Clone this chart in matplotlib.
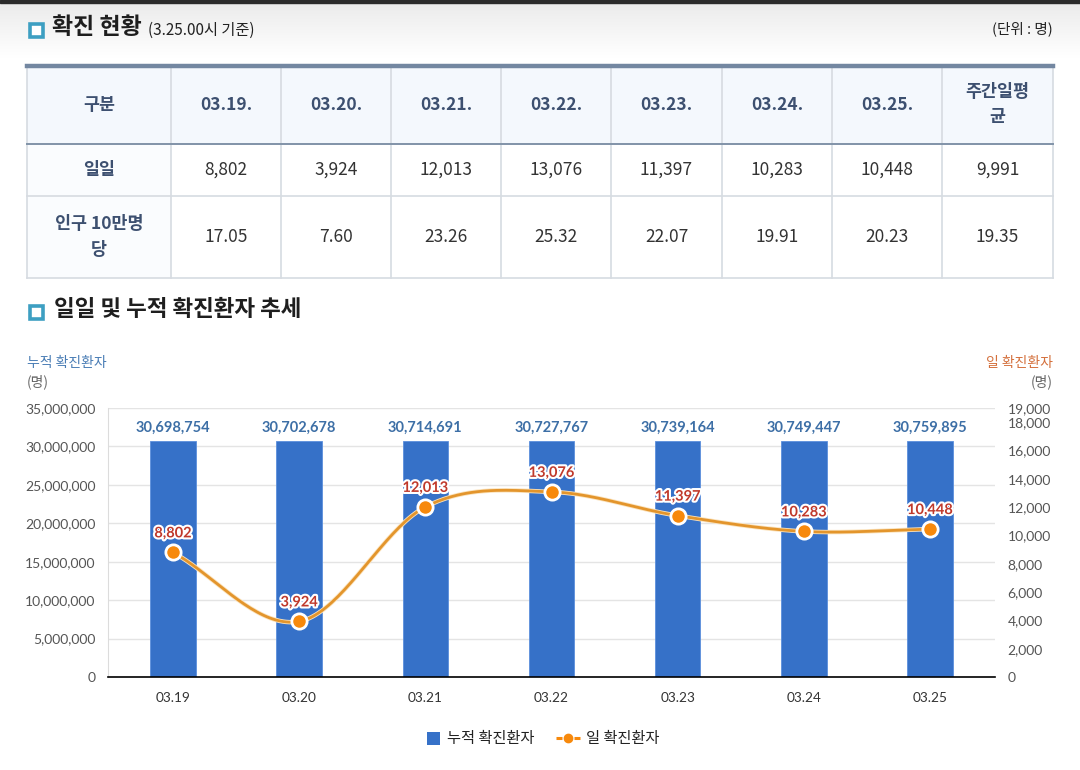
import matplotlib
matplotlib.use("Agg")
import matplotlib.pyplot as plt
import numpy as np
from matplotlib.patches import Rectangle
from matplotlib.ticker import FuncFormatter, FixedLocator
import matplotlib.patheffects as pe

plt.rcParams['font.family'] = ['Noto Sans CJK KR', 'DejaVu Sans']

# ---------------- data ----------------
table_dates = ['03.19.', '03.20.', '03.21.', '03.22.', '03.23.', '03.24.', '03.25.']
daily_cases = [8802, 3924, 12013, 13076, 11397, 10283, 10448]
daily_avg = 9991
per_100k = [17.05, 7.60, 23.26, 25.32, 22.07, 19.91, 20.23]
per_100k_avg = 19.35
chart_dates = ['03.19', '03.20', '03.21', '03.22', '03.23', '03.24', '03.25']
cumulative = [30698754, 30702678, 30714691, 30727767, 30739164, 30749447, 30759895]
left_ticks = [0, 5000000, 10000000, 15000000, 20000000, 25000000, 30000000, 35000000]
right_ticks = [0, 2000, 4000, 6000, 8000, 10000, 12000, 14000, 16000, 18000, 19000]
legend_labels = ['누적 확진환자', '일 확진환자']

# ---------------- colours ----------------
BAR = '#3671c8'
BAR_LBL = '#3d6fa6'
LINE = '#e3952c'
MARK = '#f7890c'
LINE_LBL = '#c0392b'
HEAD_TXT = '#3d5070'
BODY_TXT = '#333333'
TEAL = '#3d9fc2'

fig = plt.figure(figsize=(10.8, 7.7), dpi=100)
fig.patch.set_facecolor('white')

# background "page" axes in pixel coordinates
bg = fig.add_axes([0, 0, 1, 1], zorder=0)
bg.set_xlim(0, 1080)
bg.set_ylim(770, 0)
bg.axis('off')

# top gradient band
grad = np.linspace(0, 1, 64).reshape(-1, 1)
bg.imshow(grad, cmap=matplotlib.colors.LinearSegmentedColormap.from_list('g', ['#ebebeb', '#ffffff']),
          extent=(0, 1080, 58, 2), aspect='auto', zorder=0)
bg.add_patch(Rectangle((0, 0), 1080, 2.5, color='#2b2b2b', zorder=1))


def icon(cx, cy):
    bg.add_patch(Rectangle((cx - 6.5, cy - 6.5), 13, 13, facecolor='white',
                           edgecolor=TEAL, linewidth=2.6, zorder=3))


# titles
icon(36.5, 30)
bg.text(52, 28, '확진 현황', fontsize=16.5, fontweight='bold', color='#1e1e1e', va='center', ha='left')
bg.text(148, 30, '(3.25.00시 기준)', fontsize=11, color='#222222', va='center', ha='left')
bg.text(1053, 29, '(단위 : 명)', fontsize=10.5, color='#222222', va='center', ha='right')

# ---------------- table ----------------
col_edges = [27, 171, 281, 391, 501, 611, 722, 832, 942, 1053]
row_edges = [65, 144, 196, 278]

bg.add_patch(Rectangle((col_edges[0], row_edges[0]), col_edges[-1] - col_edges[0],
                       row_edges[1] - row_edges[0], facecolor='#f4f8fd', edgecolor='none', zorder=1))
bg.add_patch(Rectangle((col_edges[0], row_edges[1]), col_edges[1] - col_edges[0],
                       row_edges[-1] - row_edges[1], facecolor='#fafcfe', edgecolor='none', zorder=1))
for xe in col_edges:
    bg.plot([xe, xe], [row_edges[0], row_edges[-1]], color='#d6dbe1', lw=1.2, zorder=2)
bg.plot([col_edges[0], col_edges[-1]], [row_edges[2], row_edges[2]], color='#d6dbe1', lw=1.2, zorder=2)
bg.plot([col_edges[0], col_edges[-1]], [row_edges[3], row_edges[3]], color='#d6dbe1', lw=1.2, zorder=2)
bg.plot([col_edges[0], col_edges[-1]], [row_edges[1], row_edges[1]], color='#8193a8', lw=1.4, zorder=3)
bg.plot([col_edges[0], col_edges[-1]], [row_edges[0] + 1, row_edges[0] + 1], color='#7387a1', lw=3.2, zorder=3)

header = ['구분'] + table_dates + ['주간일평\n균']
row_daily = ['일일'] + [f'{v:,}' for v in daily_cases] + [f'{daily_avg:,}']
row_pc = ['인구 10만명\n당'] + [f'{v:.2f}' for v in per_100k] + [f'{per_100k_avg:.2f}']

centers_x = [(col_edges[i] + col_edges[i + 1]) / 2 for i in range(len(col_edges) - 1)]
cy = [(row_edges[i] + row_edges[i + 1]) / 2 for i in range(3)]
for i, t in enumerate(header):
    bg.text(centers_x[i], cy[0], t, fontsize=12.5, fontweight='bold', color=HEAD_TXT,
            ha='center', va='center', linespacing=1.55, zorder=4)
for r, row in enumerate([row_daily, row_pc]):
    for i, t in enumerate(row):
        if i == 0:
            bg.text(centers_x[i], cy[r + 1], t, fontsize=12.5, fontweight='bold', color=HEAD_TXT,
                    ha='center', va='center', linespacing=1.55, zorder=4)
        else:
            bg.text(centers_x[i], cy[r + 1], t, fontsize=12.5, color=BODY_TXT,
                    ha='center', va='center', zorder=4)

# second title
icon(36.5, 312)
bg.text(54, 310, '일일 및 누적 확진환자 추세', fontsize=16.2, fontweight='bold', color='#1e1e1e',
        va='center', ha='left')

# axis titles
bg.text(27, 363, '누적 확진환자', fontsize=10, color='#4a7db5', ha='left', va='center')
bg.text(27, 382, '(명)', fontsize=10, color='#666666', ha='left', va='center')
bg.text(1053, 363, '일 확진환자', fontsize=10, color='#d4703c', ha='right', va='center')
bg.text(1053, 382, '(명)', fontsize=10, color='#666666', ha='right', va='center')

# ---------------- chart ----------------
L, R, T, B = 108, 995, 408, 677
ax = fig.add_axes([L / 1080, 1 - B / 770, (R - L) / 1080, (B - T) / 770], zorder=2)
ax.set_facecolor('none')
x = np.arange(len(chart_dates))

num_font = ['Lato', 'Noto Sans CJK KR', 'DejaVu Sans']

ax.bar(x, cumulative, width=0.36, color=BAR, edgecolor='#5b8fdc', linewidth=0.6, zorder=2)
ax.set_xlim(-0.515, len(x) - 0.485)
ax.set_ylim(0, 35000000)
ax.yaxis.set_major_locator(FixedLocator(left_ticks))
ax.yaxis.set_major_formatter(FuncFormatter(lambda v, p: f'{int(v):,}'))
ax.grid(axis='y', color='#e4e4e4', linewidth=1, zorder=0)
ax.set_axisbelow(True)
ax.set_xticks(x)
ax.set_xticklabels(chart_dates, fontfamily=num_font, fontsize=9.8, color='#333333')
ax.tick_params(axis='x', length=0, pad=11)
ax.tick_params(axis='y', which='major', length=0, pad=9, labelsize=10, labelcolor='#555555')
ax.set_yticks([0], minor=True)
ax.tick_params(axis='y', which='minor', length=7, width=1.1, color='black')
for lbl in ax.get_yticklabels():
    lbl.set_fontfamily(num_font)
for s in ['top', 'right']:
    ax.spines[s].set_visible(False)
ax.spines['left'].set_color('#dcdcdc')
ax.spines['bottom'].set_color('black')
ax.spines['bottom'].set_linewidth(1.2)

for xi, v in zip(x, cumulative):
    ax.annotate(f'{v:,}', (xi, v), xytext=(0, 13), textcoords='offset pixels',
                ha='center', va='center', fontsize=10.5, fontweight='bold', color=BAR_LBL,
                fontfamily=num_font, zorder=5)

# secondary axis
ax2 = ax.twinx()
ax2.set_ylim(0, 19000)
ax2.yaxis.set_major_locator(FixedLocator(right_ticks))
ax2.yaxis.set_major_formatter(FuncFormatter(lambda v, p: f'{int(v):,}'))
ax2.tick_params(axis='y', length=0, pad=9, labelsize=10, labelcolor='#555555')
for lbl in ax2.get_yticklabels():
    lbl.set_fontfamily(num_font)
for s in ['top', 'right', 'left', 'bottom']:
    ax2.spines[s].set_visible(False)


# smooth curve through the daily values (Catmull-Rom style cubic Hermite)
def smooth(xs, ys, n=40):
    xs = np.asarray(xs, float)
    ys = np.asarray(ys, float)
    m = np.zeros_like(ys)
    m[0] = ys[1] - ys[0]
    m[-1] = ys[-1] - ys[-2]
    m[1:-1] = (ys[2:] - ys[:-2]) / 2
    out_x, out_y = [], []
    for i in range(len(xs) - 1):
        t = np.linspace(0, 1, n)
        h00 = 2 * t**3 - 3 * t**2 + 1
        h10 = t**3 - 2 * t**2 + t
        h01 = -2 * t**3 + 3 * t**2
        h11 = t**3 - t**2
        out_x.append(xs[i] + t * (xs[i + 1] - xs[i]))
        out_y.append(h00 * ys[i] + h10 * m[i] + h01 * ys[i + 1] + h11 * m[i + 1])
    return np.concatenate(out_x), np.concatenate(out_y)


sx, sy = smooth(x, daily_cases)
ax2.plot(sx, sy, color=LINE, linewidth=2, zorder=3,
         path_effects=[pe.Stroke(linewidth=3.2, foreground='#fbe3bd'), pe.Normal()])
ax2.plot(x, daily_cases, linestyle='none', marker='o', markersize=11, markerfacecolor=MARK,
         markeredgecolor='white', markeredgewidth=2, zorder=4)
for xi, v in zip(x, daily_cases):
    ax2.annotate(f'{v:,}', (xi, v), xytext=(0, 19), textcoords='offset pixels',
                 ha='center', va='center', fontsize=10.5, fontweight='bold', color=LINE_LBL,
                 fontfamily=num_font, zorder=6,
                 path_effects=[pe.withStroke(linewidth=3, foreground='white')])

# legend (drawn by hand to match the square / dashed-marker swatches)
ly = 738
bg.add_patch(Rectangle((427, ly - 6.5), 13, 13, facecolor=BAR, edgecolor='none', zorder=3))
bg.text(447, ly, legend_labels[0], fontsize=11, color='#222222', ha='left', va='center')
bg.plot([556, 562], [ly, ly], color=MARK, lw=2.2, zorder=3, solid_capstyle='butt')
bg.plot([574, 580], [ly, ly], color=MARK, lw=2.2, zorder=3, solid_capstyle='butt')
bg.plot([568], [ly], marker='o', markersize=6, color=MARK, zorder=4)
bg.text(586, ly, legend_labels[1], fontsize=11, color='#222222', ha='left', va='center')

fig.savefig('out.png', dpi=100, facecolor='white')
